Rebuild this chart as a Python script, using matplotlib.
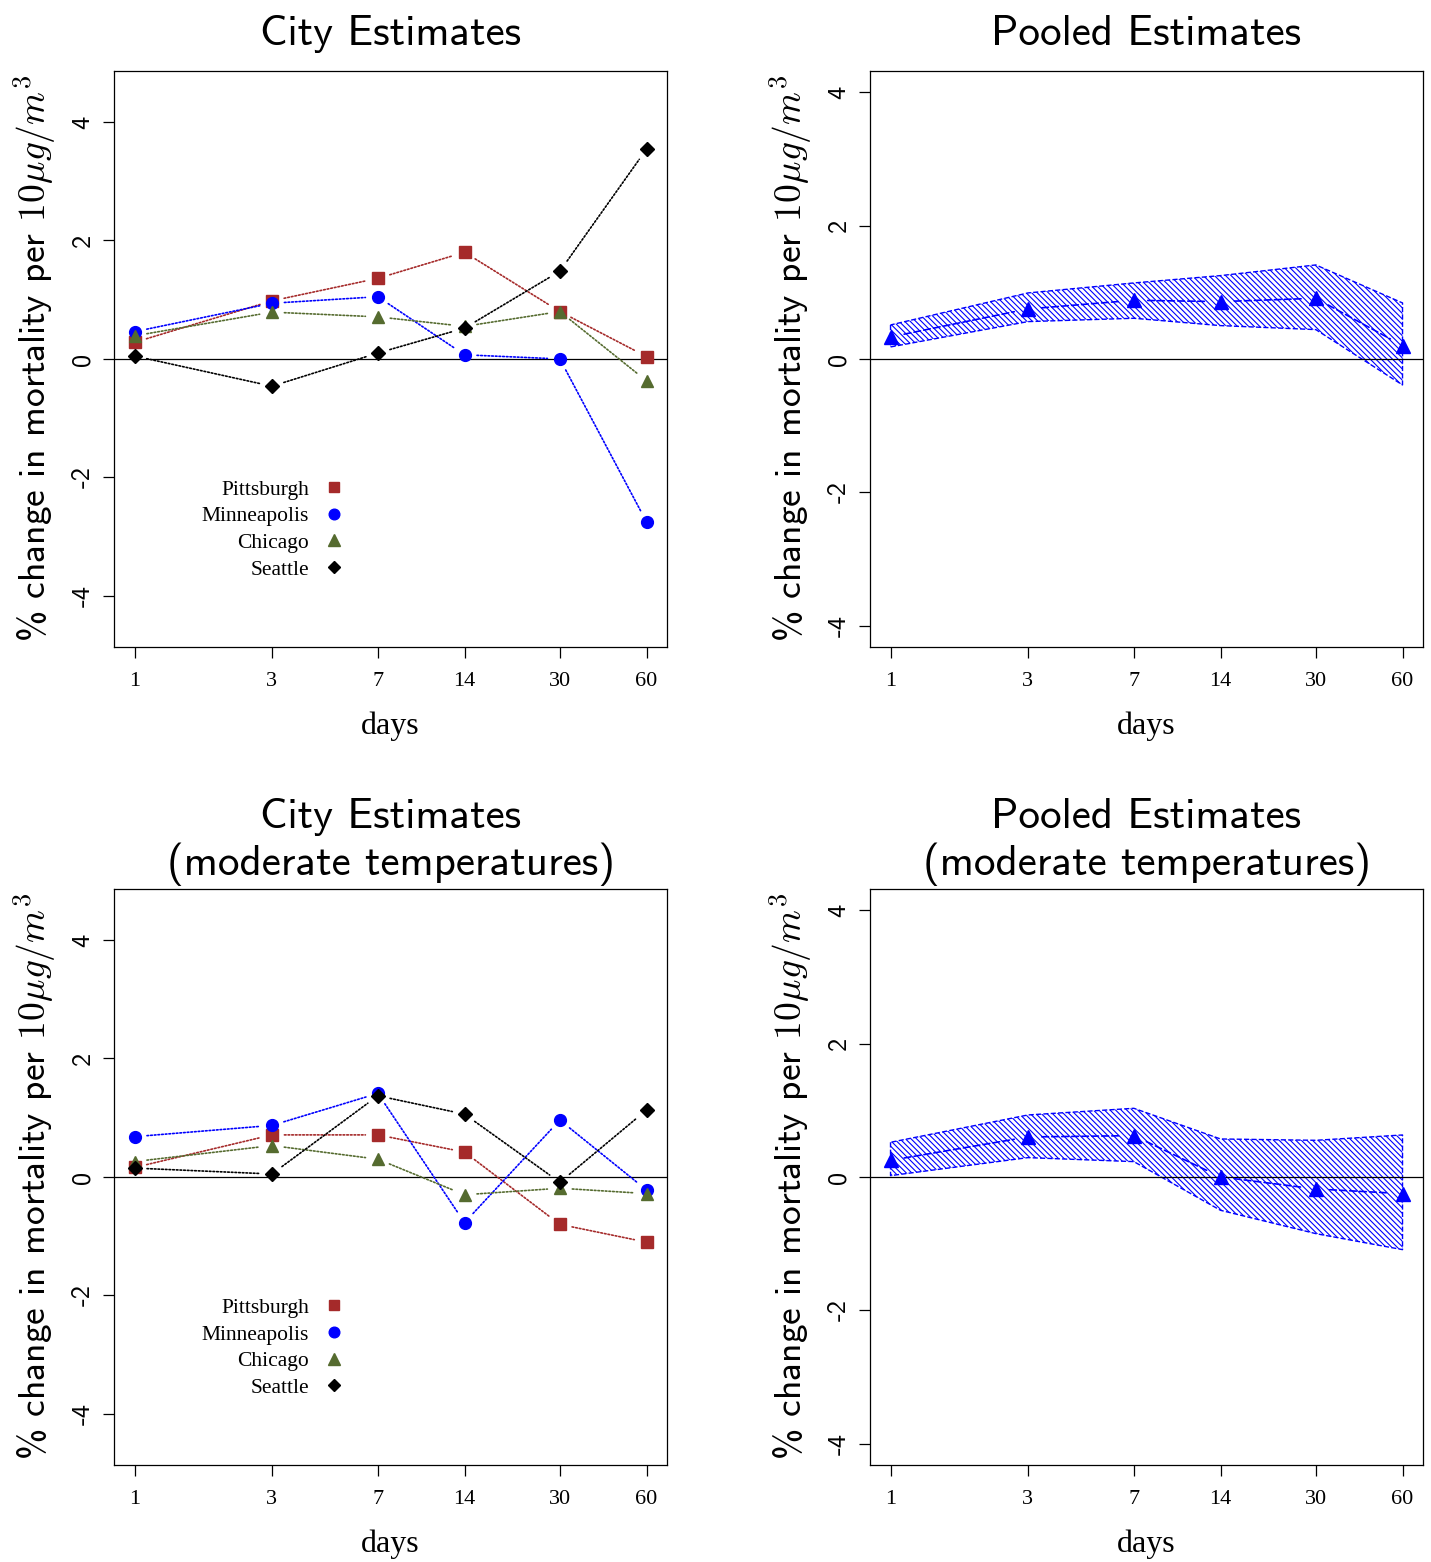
import numpy as np
import matplotlib
matplotlib.use('Agg')
import matplotlib.pyplot as plt
from matplotlib.lines import Line2D

# lags in days
days = [1, 3, 7, 14, 30, 60]
day_labels = ['1', '3', '7', '14', '30', '60']
cities = ['Pittsburgh', 'Minneapolis', 'Chicago', 'Seattle']

# city estimates, all days
pitt_all = [0.28, 0.98, 1.36, 1.80, 0.80, 0.04]
minn_all = [0.46, 0.94, 1.05, 0.07, 0.00, -2.75]
chi_all = [0.39, 0.79, 0.71, 0.55, 0.80, -0.37]
sea_all = [0.05, -0.46, 0.10, 0.52, 1.48, 3.54]

# city estimates, moderate temperatures
pitt_mod = [0.16, 0.71, 0.71, 0.42, -0.80, -1.10]
minn_mod = [0.68, 0.87, 1.41, -0.77, 0.96, -0.22]
chi_mod = [0.26, 0.53, 0.30, -0.30, -0.19, -0.28]
sea_mod = [0.15, 0.05, 1.37, 1.06, -0.09, 1.13]

# pooled estimates with band
pool_all = [0.33, 0.75, 0.88, 0.86, 0.91, 0.20]
pool_all_lo = [0.18, 0.56, 0.61, 0.50, 0.44, -0.39]
pool_all_hi = [0.51, 0.99, 1.14, 1.25, 1.41, 0.84]

pool_mod = [0.25, 0.60, 0.62, 0.00, -0.18, -0.25]
pool_mod_lo = [0.02, 0.29, 0.23, -0.50, -0.85, -1.09]
pool_mod_hi = [0.52, 0.93, 1.03, 0.57, 0.55, 0.63]

city_colors = ['#A52A2A', 'blue', '#556B2F', 'black']
city_markers = ['s', 'o', '^', 'D']
city_ms = [8.5, 8.5, 9, 7]

plt.rcParams['font.family'] = 'Liberation Serif'
plt.rcParams['mathtext.fontset'] = 'cm'
plt.rcParams['hatch.linewidth'] = 0.8
plt.rcParams['axes.linewidth'] = 0.9

xlo, xhi = np.exp(-0.1638), np.exp(4.258)
ylabel = r'% change in mortality per $10\mu g/m^3$'


def gapped(ax, x, y, color, ls, gap=9):
    # R type="b": lines stop short of the points
    for i in range(len(x) - 1):
        ax.annotate('', xy=(x[i + 1], y[i + 1]), xytext=(x[i], y[i]),
                    arrowprops=dict(arrowstyle='-', color=color, linestyle=ls,
                                    lw=1.2, shrinkA=gap, shrinkB=gap))


def setup(ax, title, ylim, yticks, tpad):
    ax.set_xscale('log')
    ax.set_xlim(xlo, xhi)
    ax.set_ylim(-ylim, ylim)
    ax.set_xticks(days)
    ax.set_xticklabels(day_labels)
    ax.minorticks_off()
    ax.set_yticks(yticks)
    ax.set_yticklabels([str(t) for t in yticks], rotation=90, va='center',
                       fontfamily='cmss10', fontsize=19)
    ax.tick_params(length=8, width=0.9)
    ax.tick_params(axis='x', labelsize=16, pad=10)
    ax.tick_params(axis='y', pad=6)
    ax.axhline(0, color='black', lw=0.9)
    ax.set_title(title, fontfamily='cmss10', fontsize=31, pad=tpad, linespacing=1.2)
    ax.set_xlabel('days', fontsize=23, labelpad=15)
    ax.set_ylabel(ylabel, fontfamily='cmss10', fontsize=27, labelpad=10)


fig = plt.figure(figsize=(14.31, 15.62), dpi=100)
w, h = 0.3864, 0.3688
ax1 = fig.add_axes([0.0797, 0.5858, w, h])
ax2 = fig.add_axes([0.6080, 0.5858, w, h])
ax3 = fig.add_axes([0.0797, 0.0621, w, h])
ax4 = fig.add_axes([0.6080, 0.0621, w, h])

# city panels
for ax, series, title, tpad in [(ax1, [pitt_all, minn_all, chi_all, sea_all], 'City Estimates', 19),
                                (ax3, [pitt_mod, minn_mod, chi_mod, sea_mod],
                                 'City Estimates\n(moderate temperatures)', 10)]:
    setup(ax, title, 4.86, [-4, -2, 0, 2, 4], tpad)
    for vals, c, m, ms in zip(series, city_colors, city_markers, city_ms):
        gapped(ax, days, vals, c, (0, (1, 1.2)))
        ax.plot(days, vals, linestyle='none', marker=m, color=c, ms=ms)
    handles = [Line2D([], [], linestyle='none', marker=m, color=c, ms=ms * 0.9)
               for c, m, ms in zip(city_colors, city_markers, city_ms)]
    ax.legend(handles, cities, loc='upper right', bbox_to_anchor=(0.429, 0.305),
              frameon=False, markerfirst=False, fontsize=15.5, handlelength=0.8,
              handletextpad=0.75, labelspacing=0.3, borderaxespad=0)

# pooled panels
for ax, mid, lo, hi, title, tpad in [(ax2, pool_all, pool_all_lo, pool_all_hi, 'Pooled Estimates', 19),
                                     (ax4, pool_mod, pool_mod_lo, pool_mod_hi,
                                      'Pooled Estimates\n(moderate temperatures)', 10)]:
    setup(ax, title, 4.32, [-4, -2, 0, 2, 4], tpad)
    ax.fill_between(days, lo, hi, facecolor='none', edgecolor='blue',
                    hatch='\\\\\\\\\\\\', linestyle='--', lw=1.0)
    gapped(ax, days, mid, 'blue', (0, (4, 2)), gap=10)
    ax.plot(days, mid, linestyle='none', marker='^', color='blue', ms=10)

fig.savefig('out.png', dpi=100)
